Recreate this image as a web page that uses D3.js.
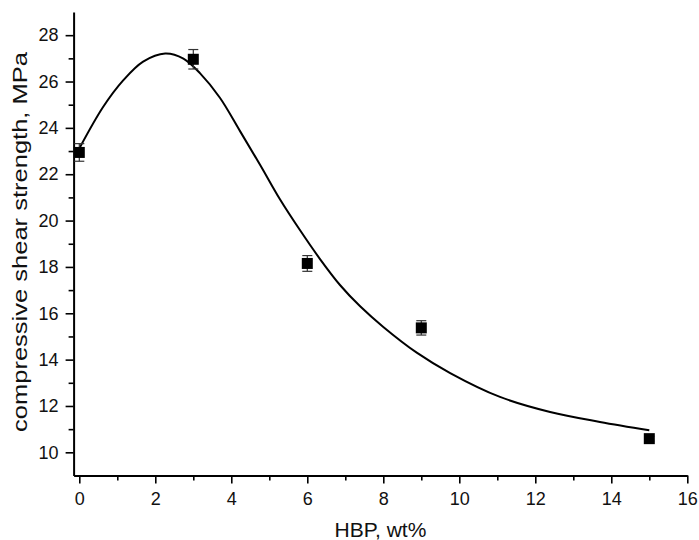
<!DOCTYPE html>
<html>
<head>
<meta charset="utf-8">
<script src="https://cdn.jsdelivr.net/npm/d3@7"></script>
<style>
  body { margin: 0; background: #fff; }
  svg { display: block; font-family: "Liberation Sans", Arial, sans-serif; }
</style>
</head>
<body>
<div id="chart"></div>
<script>
// --- DATA ---
const hbp = [0, 3, 6, 9, 15];
const strength = [22.94, 26.96, 18.15, 15.37, 10.59];
const strengthErr = [0.38, 0.42, 0.34, 0.31, 0.1];

// fitted curve, sampled along the drawn line
const fitX = [0, 0.63, 1.16, 1.68, 2.26, 2.74, 3.18, 3.70, 4.23, 4.76, 5.28, 5.81, 6.33, 6.86, 7.39, 8.0, 8.88, 9.76, 11.07, 12.39, 13.7, 15.0];
const fitY = [23.11, 24.91, 26.06, 26.86, 27.21, 26.99, 26.35, 25.30, 23.86, 22.40, 20.92, 19.58, 18.35, 17.22, 16.30, 15.41, 14.30, 13.42, 12.39, 11.74, 11.31, 10.95];

const xMajor = [0, 2, 4, 6, 8, 10, 12, 14, 16];
const xMinor = [1, 3, 5, 7, 9, 11, 13, 15];
const yMajor = [10, 12, 14, 16, 18, 20, 22, 24, 26, 28];
const yMinor = [11, 13, 15, 17, 19, 21, 23, 25, 27];

// --- SETUP ---
const width = 699, height = 540;
const svg = d3.select("#chart").append("svg")
    .attr("width", width).attr("height", height);

const xScale = d3.scaleLinear().domain([-0.15, 16]).range([73.6, 687.3]);
const yScale = d3.scaleLinear().domain([9, 29]).range([475.5, 12]);

// --- AXES ---
function styleAxis(g) {
    g.selectAll("path.domain").attr("stroke", "#000").attr("stroke-width", 2);
    g.selectAll(".tick line").attr("stroke", "#000").attr("stroke-width", 1.6);
    g.selectAll(".tick text").attr("fill", "#111").style("font-size", "18px");
}

// minor ticks first
svg.append("g")
    .attr("transform", `translate(0,${yScale(9)})`)
    .call(d3.axisBottom(xScale).tickValues(xMinor).tickSize(5).tickFormat(""))
    .call(g => g.select(".domain").remove())
    .call(styleAxis);
svg.append("g")
    .attr("transform", `translate(${xScale(-0.15)},0)`)
    .call(d3.axisLeft(yScale).tickValues(yMinor).tickSize(5).tickFormat(""))
    .call(g => g.select(".domain").remove())
    .call(styleAxis);

svg.append("g")
    .attr("transform", `translate(0,${yScale(9)})`)
    .call(d3.axisBottom(xScale).tickValues(xMajor).tickSize(8).tickSizeOuter(0).tickPadding(9))
    .call(styleAxis);
svg.append("g")
    .attr("transform", `translate(${xScale(-0.15)},0)`)
    .call(d3.axisLeft(yScale).tickValues(yMajor).tickSize(8).tickSizeOuter(0).tickPadding(7))
    .call(styleAxis);

// axis titles
svg.append("text")
    .attr("x", (xScale(-0.15) + xScale(16)) / 2)
    .attr("y", 537)
    .attr("text-anchor", "middle")
    .style("font-size", "21px")
    .attr("fill", "#111")
    .text("HBP, wt%");

svg.append("text")
    .attr("transform", `translate(27,242) rotate(-90)`)
    .attr("text-anchor", "middle")
    .attr("textLength", 380)
    .attr("lengthAdjust", "spacingAndGlyphs")
    .style("font-size", "20px")
    .attr("fill", "#111")
    .text("compressive shear strength, MPa");

// --- FIT CURVE ---
const fitData = fitX.map((x, i) => ({ x, y: fitY[i] }));
const lineGenerator = d3.line()
    .x(d => xScale(d.x))
    .y(d => yScale(d.y))
    .curve(d3.curveCatmullRom.alpha(0.5));

svg.append("path")
    .datum(fitData)
    .attr("fill", "none")
    .attr("stroke", "#000")
    .attr("stroke-width", 2)
    .attr("d", lineGenerator);

// --- POINTS + ERROR BARS ---
const points = hbp.map((x, i) => ({ x, y: strength[i], e: strengthErr[i] }));
const capW = 5;

const err = svg.append("g").attr("stroke", "#333").attr("stroke-width", 1.2);
points.forEach(d => {
    const cx = xScale(d.x);
    const top = yScale(d.y + d.e), bot = yScale(d.y - d.e);
    err.append("line").attr("x1", cx).attr("x2", cx).attr("y1", top).attr("y2", bot);
    err.append("line").attr("x1", cx - capW).attr("x2", cx + capW).attr("y1", top).attr("y2", top);
    err.append("line").attr("x1", cx - capW).attr("x2", cx + capW).attr("y1", bot).attr("y2", bot);
});

const size = 11;
svg.selectAll(".marker")
    .data(points).enter().append("rect")
    .attr("class", "marker")
    .attr("x", d => xScale(d.x) - size / 2)
    .attr("y", d => yScale(d.y) - size / 2)
    .attr("width", size).attr("height", size)
    .attr("fill", "#000");
</script>
</body>
</html>
